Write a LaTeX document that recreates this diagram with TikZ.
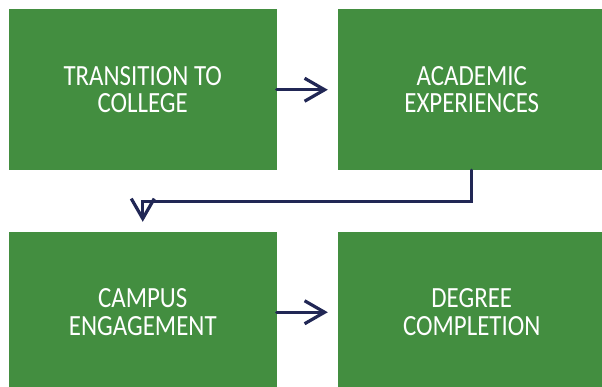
\documentclass[tikz,border=0pt]{standalone}
\usepackage{fontspec}
\newfontfamily\stagefont[FakeStretch=0.85]{Carlito}
\usetikzlibrary{arrows.meta}

\definecolor{stagegreen}{RGB}{67,142,64}
\definecolor{flownavy}{RGB}{33,39,85}

\tikzset{
  stage/.style={fill=stagegreen, text=white, align=center, inner sep=0pt,
    minimum width=267.5pt, minimum height=160.5pt,
    font=\stagefont\fontsize{29.3}{27.5}\selectfont},
  flow/.style={draw=flownavy, line width=3.2pt, shorten >=10pt,
    -{Straight Barb[length=20pt, width=23pt]}}
}

\begin{document}
\begin{tikzpicture}[x=1pt, y=-1pt, line cap=round, line join=miter]

\path[use as bounding box, clip] (0,0) rectangle (602,387);

\node[stage] (transition) at (142.75,89.75) {TRANSITION TO\\COLLEGE};
\node[stage] (academic) at (471.75,89.75) {ACADEMIC\\EXPERIENCES};
\node[stage] (campus) at (142.75,312.25) {CAMPUS\\ENGAGEMENT};
\node[stage] (degree) at (471.75,312.25) {DEGREE\\COMPLETION};

\draw[flow] (transition) -- (academic);
\draw[flow] (academic.south) -- ++(0,31) -| (campus.north);
\draw[flow] (campus) -- (degree);

\end{tikzpicture}
\end{document}
